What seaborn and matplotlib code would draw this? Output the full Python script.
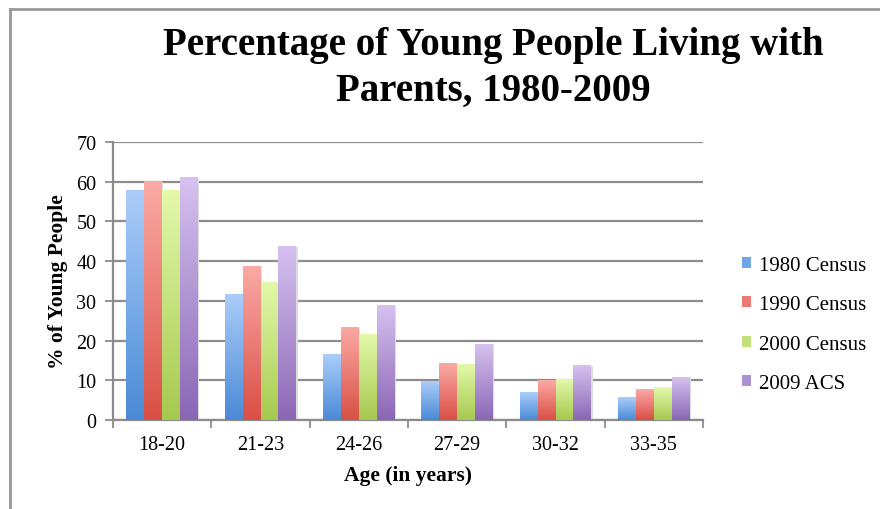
# Young people living with parents, grouped bars with vertical gradient fill
import numpy as np
import pandas as pd
import seaborn as sns
import matplotlib.pyplot as plt
from matplotlib.colors import LinearSegmentedColormap
from matplotlib.patches import Patch
from matplotlib.lines import Line2D

# Data
ages = ["18-20", "21-23", "24-26", "27-29", "30-32", "33-35"]
series = ["1980 Census", "1990 Census", "2000 Census", "2009 ACS"]
census_1980 = [57.7, 31.6, 16.5, 9.7, 6.8, 5.6]
census_1990 = [60.0, 38.6, 23.2, 14.2, 9.9, 7.8]
census_2000 = [57.7, 34.7, 21.6, 13.9, 10.2, 8.3]
acs_2009 = [61.0, 43.6, 28.8, 19.1, 13.7, 10.8]

# bottom (dark) / top (light) gradient colours per series
dark = ["#4a8ad6", "#d94f45", "#a6c94f", "#8a66b5"]
light = ["#abcdfa", "#fbaaa5", "#e3f9aa", "#d6c2f0"]
mid = ["#6fa6e6", "#ea7a72", "#c4e07c", "#ad92d3"]

df = pd.DataFrame({
    "age": ages * 4,
    "series": np.repeat(series, len(ages)),
    "value": census_1980 + census_1990 + census_2000 + acs_2009,
})

plt.rcParams["font.family"] = ["Liberation Serif", "DejaVu Serif"]

fig = plt.figure(figsize=(8.8, 5.1), dpi=100)
ax = fig.add_axes([113 / 880, 1 - 421 / 510, 590 / 880, 278 / 510])

sns.barplot(data=df, x="age", y="value", hue="series", palette=mid,
            width=0.73, gap=0, ax=ax, legend=False)

# swap each bar for a vertical gradient image
grad = np.linspace(0, 1, 256).reshape(-1, 1)
for i, cont in enumerate(ax.containers):
    cmap = LinearSegmentedColormap.from_list("g%d" % i, [dark[i], light[i]])
    for bar in cont:
        x0, w, h = bar.get_x(), bar.get_width(), bar.get_height()
        # faint shadow to the right
        ax.add_patch(plt.Rectangle((x0 + w, 0), 0.012, h, color="#dddddd",
                                   lw=0, zorder=2))
        ax.imshow(grad, cmap=cmap, origin="lower", aspect="auto",
                  extent=(x0, x0 + w, 0, h), zorder=3, interpolation="bicubic")
        bar.set_visible(False)
ax.set_xlim(-0.5, 5.5)
ax.set_ylim(0, 70)

# gridlines and axes styling
ax.set_yticks(range(0, 71, 10))
ax.yaxis.grid(True, color="#8c8c8c", lw=1.6)
ax.set_axisbelow(True)
for s in ["top", "right"]:
    ax.spines[s].set_visible(False)
for s in ["left", "bottom"]:
    ax.spines[s].set_color("#8c8c8c")
    ax.spines[s].set_linewidth(1.6)
ax.set_facecolor("white")

ax.set_xticks(np.arange(-0.5, 6, 1))
ax.set_xticklabels([])
ax.set_xticks(range(len(ages)), minor=True)
ax.set_xticklabels(ages, minor=True, fontsize=14.5)
ax.tick_params(axis="x", which="major", length=6, width=1.3, color="#8c8c8c")
ax.tick_params(axis="x", which="minor", length=0, pad=11)
ax.tick_params(axis="y", length=6, width=1.3, color="#8c8c8c", labelsize=14.5, pad=6)

ax.set_xlabel("Age (in years)", fontsize=15.5, fontweight="bold", labelpad=8)
ax.set_ylabel("% of Young People", fontsize=15.5, fontweight="bold", labelpad=6)

# legend
handles = [Patch(facecolor=mid[i], edgecolor="none") for i in range(4)]
fig.legend(handles, series, loc="upper left", bbox_to_anchor=(723 / 880, 1 - 238 / 510),
           frameon=False, fontsize=15, handlelength=0.45, handleheight=0.45,
           handletextpad=0.4, labelspacing=0.98)

# title
fig.text(493 / 880, 1 - 46 / 510, "Percentage of Young People Living with",
         ha="center", va="center", fontsize=28, fontweight="bold")
fig.text(493 / 880, 1 - 91 / 510, "Parents, 1980-2009",
         ha="center", va="center", fontsize=28, fontweight="bold")

# partial chart-area border (left and top edges)
fig.add_artist(Line2D([10 / 880, 10 / 880], [0, 1 - 10 / 510], color="#999999", lw=2,
                      transform=fig.transFigure))
fig.add_artist(Line2D([10 / 880, 1], [1 - 10 / 510, 1 - 10 / 510], color="#999999", lw=2,
                      transform=fig.transFigure))

fig.savefig("out.png", dpi=100)
